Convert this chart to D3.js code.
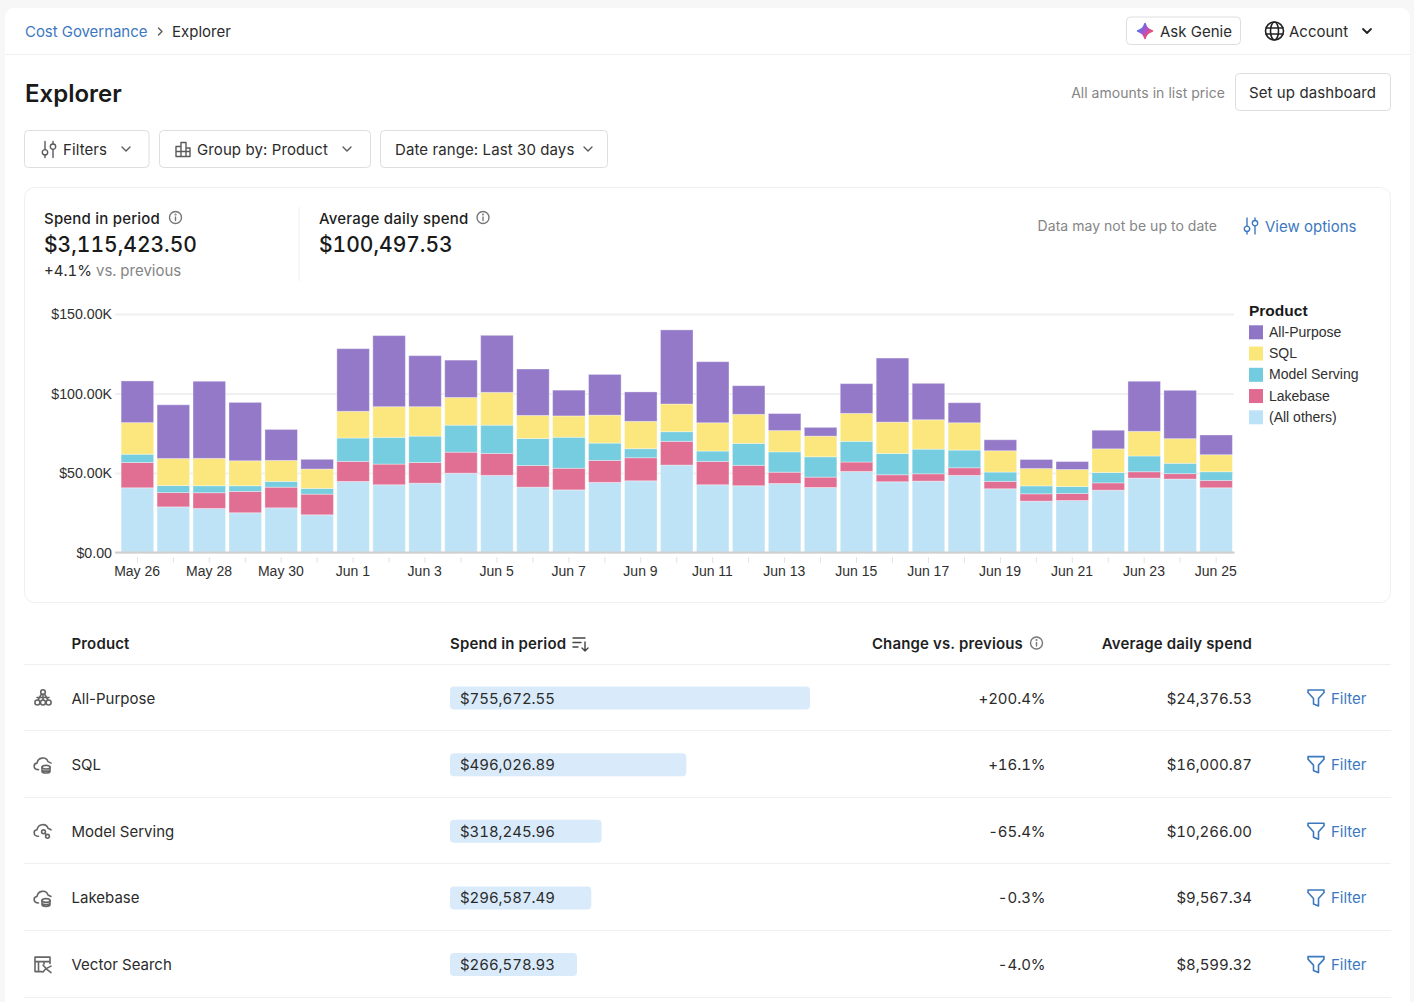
<!DOCTYPE html>
<html>
<head>
<meta charset="utf-8">
<title>Explorer</title>
<script src="https://cdn.jsdelivr.net/npm/d3@7"></script>
<style>
  html, body { margin: 0; padding: 0; background: #f7f7f7; overflow: hidden; }
  svg { display: block; }
  text { font-family: Inter, sans-serif; font-size: 15px; fill: #2b2b2b; dominant-baseline: central; }
  .chart text { font-family: "Liberation Sans", sans-serif; font-size: 14px; fill: #2f2f2f; }
  .chart .domain { stroke: #cfcfcf; stroke-width: 2px; }
  .chart .x-axis line { stroke: #e4e4e4; }
  .chart .y-axis line { stroke: #f0f0f0; stroke-width: 2px; }
  .muted { fill: #858585; }
  .small { font-size: 14px; letter-spacing: 0.03px; }
  .link { fill: #3d78bf; }
  .tool { letter-spacing: 0.1px; }
  .strong { font-weight: 600; fill: #1f1f1f; letter-spacing: 0.15px; }
  .label { font-weight: 500; letter-spacing: 0.2px; fill: #1f1f1f; }
  .big { font-size: 21px; font-weight: 500; fill: #1a1a1a; font-variant-numeric: tabular-nums; }
  .num { font-variant-numeric: tabular-nums; letter-spacing: -0.05px; }
  .icon { fill: none; stroke: #5a5a5a; stroke-width: 1.4px; stroke-linecap: round; stroke-linejoin: round; }
</style>
</head>
<body>
<script>
// values in thousands of dollars
var days = ['May 26', 'May 27', 'May 28', 'May 29', 'May 30', 'May 31', 'Jun 1', 'Jun 2', 'Jun 3', 'Jun 4', 'Jun 5',
  'Jun 6', 'Jun 7', 'Jun 8', 'Jun 9', 'Jun 10', 'Jun 11', 'Jun 12', 'Jun 13', 'Jun 14', 'Jun 15', 'Jun 16',
  'Jun 17', 'Jun 18', 'Jun 19', 'Jun 20', 'Jun 21', 'Jun 22', 'Jun 23', 'Jun 24', 'Jun 25'];
var allOthers = [40.7, 28.7, 27.7, 25.0, 28.1, 23.7, 44.7, 42.6, 43.6, 49.9, 48.5, 41.1, 39.4, 44.1, 45.1, 55.0,
  42.6, 42.0, 43.4, 40.9, 51.0, 44.5, 44.9, 48.5, 40.1, 32.3, 32.7, 39.2, 46.8, 46.2, 40.7];
var lakebase = [15.9, 9.0, 9.9, 13.4, 13.0, 13.0, 12.6, 13.0, 13.0, 13.2, 13.8, 13.6, 13.6, 13.8, 14.5, 14.9,
  14.7, 12.8, 7.1, 6.5, 5.9, 4.4, 4.6, 4.8, 4.6, 4.6, 4.4, 4.6, 4.0, 3.4, 4.6];
var modelServing = [5.2, 4.4, 4.4, 3.6, 3.6, 3.6, 14.7, 16.8, 16.6, 17.0, 17.8, 17.0, 19.5, 10.9, 5.7, 6.1,
  6.5, 13.8, 12.8, 12.8, 13.0, 13.4, 15.5, 11.1, 5.9, 5.0, 4.4, 6.5, 9.9, 6.5, 5.5];
var sql = [19.9, 17.0, 17.2, 15.7, 13.2, 12.2, 16.8, 19.3, 18.5, 17.4, 20.6, 14.5, 13.4, 17.6, 17.2, 17.4,
  17.8, 18.3, 13.4, 13.0, 17.6, 19.7, 18.5, 17.2, 13.4, 10.9, 10.7, 14.9, 15.5, 15.5, 10.7];
var allPurpose = [26.2, 33.8, 48.5, 36.7, 19.5, 6.1, 39.4, 44.7, 32.1, 23.5, 35.9, 29.2, 16.2, 25.6, 18.5, 46.6,
  38.4, 18.0, 10.7, 5.5, 18.7, 40.3, 22.9, 12.6, 6.9, 5.7, 5.0, 11.7, 31.5, 30.4, 12.4];

var seriesNames = ['(All others)', 'Lakebase', 'Model Serving', 'SQL', 'All-Purpose'];
var seriesValues = [allOthers, lakebase, modelServing, sql, allPurpose];
var seriesColors = ['#bce2f7', '#e06a90', '#72cbde', '#fbe67a', '#8f75c6'];
var yTicks = [0, 50, 100, 150];

var rowProducts = ['All-Purpose', 'SQL', 'Model Serving', 'Lakebase', 'Vector Search'];
var rowSpend = [755672.55, 496026.89, 318245.96, 296587.49, 266578.93];
var rowChange = ['+200.4%', '+16.1%', '-65.4%', '-0.3%', '-4.0%'];
var rowAverage = [24376.53, 16000.87, 10266.00, 9567.34, 8599.32];

var svg = d3.select('body').append('svg')
  .attr('width', 1414)
  .attr('height', 1002);

var defs = svg.append('defs');
var grad = defs.append('linearGradient').attr('id', 'genie')
  .attr('x1', 0).attr('y1', 0.1).attr('x2', 1).attr('y2', 0.9);
grad.append('stop').attr('offset', '15%').attr('stop-color', '#4a78ee');
grad.append('stop').attr('offset', '50%').attr('stop-color', '#b350c8');
grad.append('stop').attr('offset', '85%').attr('stop-color', '#f4505c');

// page card
svg.append('rect').attr('x', 5).attr('y', 8).attr('width', 1405).attr('height', 1020).attr('rx', 9)
  .attr('fill', '#fff');
svg.append('line').attr('x1', 5).attr('x2', 1410).attr('y1', 54.5).attr('y2', 54.5).attr('stroke', '#efefef');

function label(x, y, str, cls, anchor) {
  return svg.append('text').attr('x', x).attr('y', y).attr('class', cls || null)
    .attr('text-anchor', anchor || 'start').text(str);
}

function box(x, y, w, h, r) {
  svg.append('rect').attr('x', x).attr('y', y).attr('width', w).attr('height', h).attr('rx', r)
    .attr('fill', '#fff').attr('stroke', '#dedede');
}

function icon(x, y, draw, color) {
  var g = svg.append('g').attr('class', 'icon').attr('transform', 'translate(' + x + ',' + y + ')');
  if (color) g.style('stroke', color);
  draw(g);
  return g;
}

function chevron(g) { g.append('path').attr('d', 'M-4,-2 L0,2 L4,-2'); }

function sliders(g) {
  g.append('path').attr('d', 'M-4,-8 V0 M-4,5.5 V8 M4,-8 V-5.5 M4,0 V8');
  g.append('circle').attr('cx', -4).attr('cy', 2.8).attr('r', 2.7);
  g.append('circle').attr('cx', 4).attr('cy', -2.8).attr('r', 2.7);
}

function info(g) {
  g.append('circle').attr('r', 6);
  g.append('path').attr('d', 'M0,-0.5 V3');
  g.append('circle').attr('cy', -3).attr('r', 0.4);
}

function funnel(g) {
  g.append('path').attr('d', 'M-8,-8 H8 V-5.5 L2.5,0.5 V8 L-2.5,6 V0.5 L-8,-5.5 Z');
}

function cloudBase(g) {
  g.append('path').attr('d', 'M-4.5,5 C-10,5 -10,-1 -6,-1.5 C-5,-7.5 3,-8.5 5,-3 L8,-1.5');
}

function dbIcon(g) {
  cloudBase(g);
  g.append('ellipse').attr('cx', 3).attr('cy', 2.5).attr('rx', 4).attr('ry', 1.8);
  g.append('path').attr('d', 'M-1,2.5 V6.5 C-1,9 7,9 7,6.5 V2.5 M-1,5 C-1,7 7,7 7,5');
}

function servingIcon(g) {
  cloudBase(g);
  g.append('circle').attr('cx', 0.5).attr('cy', 0.5).attr('r', 1.9);
  g.append('circle').attr('cx', 4.5).attr('cy', 5).attr('r', 1.9);
  g.append('path').attr('d', 'M2,2 L3.2,3.5');
}

function clusterIcon(g) {
  g.append('circle').attr('cy', -6).attr('r', 2.3);
  g.append('circle').attr('cx', -5.6).attr('cy', 4.5).attr('r', 2.5);
  g.append('circle').attr('cy', 4.5).attr('r', 2.5);
  g.append('circle').attr('cx', 5.6).attr('cy', 4.5).attr('r', 2.5);
  g.append('path').attr('d', 'M-1.5,-4 L-5,2 M0,-3.5 V2 M1.5,-4 L5,2 M-6,-0.5 H6');
}

function vectorIcon(g) {
  g.append('path').attr('d', 'M-1,7 H-8 V-7.5 H7 V-1 M-8,-3 H7 M-4.5,-3 V7 M1,-3 V-0.5');
  g.append('path').attr('d', 'M0,0.5 L3,4 L0,7.5 M3,4 L8,1.5 M3,4 L8,8');
}

// breadcrumb and header
label(25, 31, 'Cost Governance', 'link').style('letter-spacing', '-0.05px');
icon(160, 31.5, function(g) { g.append('path').attr('d', 'M-1.5,-3.5 L2,0 L-1.5,3.5'); });
label(172, 31, 'Explorer');

box(1126.5, 17, 114, 27.5, 4);
svg.append('path').attr('transform', 'translate(1145,31)')
  .attr('d', 'M0,-7.5 C1.5,-3 3,-1.5 7.5,0 C3,1.5 1.5,3 0,7.5 C-1.5,3 -3,1.5 -7.5,0 C-3,-1.5 -1.5,-3 0,-7.5 Z')
  .attr('fill', 'url(#genie)').attr('stroke', 'url(#genie)').attr('stroke-width', 1.5).attr('stroke-linejoin', 'round');
label(1160, 31, 'Ask Genie');
icon(1274.5, 31, function(g) {
  g.append('circle').attr('r', 9);
  g.append('ellipse').attr('rx', 4).attr('ry', 9);
  g.append('path').attr('d', 'M-8.5,-3 H8.5 M-8.5,3 H8.5');
}, '#222').style('stroke-width', '1.6px');
label(1289, 31, 'Account');
icon(1367, 31, chevron, '#222').style('stroke-width', '1.8px');

label(25, 93, 'Explorer').style('font-size', '24px').style('font-weight', 600).style('fill', '#1a1a1a');
label(1225, 92.5, 'All amounts in list price', 'muted small', 'end');
box(1235.5, 73.5, 155, 37, 4);
label(1312.5, 92.5, 'Set up dashboard', 'tool', 'middle');

// toolbar
box(24.5, 130.5, 124.5, 37, 4);
icon(49, 149.5, sliders);
label(63, 149, 'Filters', 'tool');
icon(126, 149, chevron);
box(159.5, 130.5, 211, 37, 4);
icon(183, 149.5, function(g) {
  g.append('path').attr('d', 'M-7,7 H7 V-1.5 H3 V-7 H-2 V-3 H-7 Z M-2,-3 V7 M3,-1.5 V7 M-7,2 H7');
});
label(197, 149, 'Group by: Product', 'tool');
icon(347, 149, chevron);
box(380.5, 130.5, 227, 37, 4);
label(395, 149, 'Date range: Last 30 days', 'tool');
icon(588, 149, chevron);

// chart card
svg.append('rect').attr('x', 24.5).attr('y', 187.5).attr('width', 1366).attr('height', 415).attr('rx', 10)
  .attr('fill', '#fff').attr('stroke', '#efefef');

label(44, 218, 'Spend in period', 'label');
icon(175.5, 217.5, info, '#777');
label(44, 244, '$3,115,423.50', 'big');
var prev = label(44, 270, '+4.1%').style('font-variant-numeric', 'tabular-nums');
prev.append('tspan').attr('class', 'muted').text(' vs. previous');
svg.append('line').attr('x1', 299).attr('x2', 299).attr('y1', 207).attr('y2', 281).attr('stroke', '#f0f0f0');
label(319, 218, 'Average daily spend', 'label');
icon(483, 217.5, info, '#777');
label(319, 244, '$100,497.53', 'big');
label(1217, 225, 'Data may not be up to date', 'muted small', 'end');
icon(1251, 226, sliders, '#3d78bf');
label(1265, 226, 'View options', 'link');

// stacked bars
var chart = svg.append('g').attr('class', 'chart');
var x = d3.scaleBand().domain(days).range([119.4, 1234.1]).paddingInner(0.095).paddingOuter(0.0475);
var y = d3.scaleLinear().domain([0, 150]).range([552.5, 314]);
var money = d3.format('$.2f');

var yAxis = d3.axisLeft(y).tickValues(yTicks).tickSize(0).tickPadding(3)
  .tickFormat(function(d) { return d === 0 ? '$0.00' : money(d) + 'K'; });
var yG = chart.append('g').attr('class', 'y-axis').attr('transform', 'translate(115,0)').call(yAxis);
yG.select('.domain').remove();
yG.selectAll('.tick').append('line').attr('x1', 0).attr('x2', 1119);
yG.selectAll('.tick text').attr('dy', 0).attr('y', -0.4).style('font-size', '14.2px');

var rows = days.map(function(d, i) {
  var row = { day: d };
  seriesNames.forEach(function(name, s) { row[name] = seriesValues[s][i]; });
  return row;
});
var stacked = d3.stack().keys(seriesNames)(rows);

chart.selectAll('.layer')
  .data(stacked)
  .enter()
  .append('g')
    .attr('class', 'layer')
    .attr('fill', function(d, i) { return seriesColors[i]; })
  .selectAll('rect')
  .data(function(d) { return d; })
  .enter()
  .append('rect')
    .attr('x', function(d) { return x(d.data.day); })
    .attr('y', function(d) { return y(d[1]); })
    .attr('width', x.bandwidth())
    .attr('height', function(d) { return y(d[0]) - y(d[1]); })
    .attr('fill-opacity', 0.97)
    .attr('stroke', 'rgba(255,255,255,0.35)');

var xAxis = d3.axisBottom(x).tickSizeOuter(0).tickSizeInner(6).tickPadding(5)
  .tickFormat(function(d, i) { return i % 2 === 0 ? d : ''; });
var xG = chart.append('g').attr('class', 'x-axis').attr('transform', 'translate(0,557)').call(xAxis);
xG.select('.domain').remove();
xG.selectAll('.tick text').attr('dy', 0).attr('y', 14).attr('dx', -0.3);
chart.append('line').attr('class', 'domain').attr('x1', 115).attr('x2', 1234.5)
  .attr('y1', y(0)).attr('y2', y(0));

// legend, top to bottom is the reverse of the stacking order
var legend = chart.append('g').attr('transform', 'translate(1249,0)');
legend.append('text').attr('y', 310.5).text('Product')
  .style('font-weight', 700).style('font-size', '15.5px').style('fill', '#1a1a1a');
var legendY = d3.scalePoint().domain(seriesNames.slice().reverse()).range([332.3, 417.3]);
legend.selectAll('rect')
  .data(seriesNames)
  .enter()
  .append('rect')
    .attr('y', function(d) { return legendY(d) - 7; })
    .attr('width', 14)
    .attr('height', 14)
    .attr('fill', function(d, i) { return seriesColors[i]; });
legend.selectAll('.legend-label')
  .data(seriesNames)
  .enter()
  .append('text')
    .attr('class', 'legend-label')
    .attr('x', 20)
    .attr('y', function(d) { return legendY(d) - 0.4; })
    .text(function(d) { return d; });

// table
label(71.5, 643.5, 'Product', 'strong');
label(450, 643.5, 'Spend in period', 'strong');
icon(581, 644, function(g) {
  g.append('path').attr('d', 'M-8,-6 H4 M-8,-1.5 H0 M-8,3 H-3 M4,-2 V7 M1,4 L4,7 L7,4');
}, '#444');
label(1023, 643.5, 'Change vs. previous', 'strong', 'end');
icon(1036.5, 643, info, '#777');
label(1252, 643.5, 'Average daily spend', 'strong', 'end');

var rowY = d3.scalePoint().domain(rowProducts).range([698, 964.6]);
var spendW = d3.scaleLinear().domain([0, rowSpend[0]]).range([0, 360]);
var dollars = d3.format('$,.2f');
var rowIcons = [clusterIcon, dbIcon, servingIcon, dbIcon, vectorIcon];

svg.append('line').attr('x1', 24).attr('x2', 1391).attr('y1', 664.5).attr('y2', 664.5).attr('stroke', '#efefef');

rowProducts.forEach(function(name, i) {
  var cy = rowY(name);
  svg.append('line').attr('x1', 24).attr('x2', 1391)
    .attr('y1', Math.round(cy + 33) - 0.5).attr('y2', Math.round(cy + 33) - 0.5).attr('stroke', '#f0f0f0');
  icon(43, cy, rowIcons[i], '#666').style('stroke-width', '1.6px');
  label(71.5, cy, name);
  svg.append('rect').attr('x', 450).attr('y', cy - 11.5).attr('height', 23).attr('rx', 4)
    .attr('width', spendW(rowSpend[i])).attr('fill', '#d9ebfb');
  label(460, cy, dollars(rowSpend[i]), 'num');
  label(1045.5, cy, rowChange[i], 'num', 'end');
  label(1252, cy, dollars(rowAverage[i]), 'num', 'end');
  icon(1316, cy, funnel, '#3d78bf').style('stroke-width', '1.6px');
  label(1331, cy, 'Filter', 'link');
});
</script>
</body>
</html>
